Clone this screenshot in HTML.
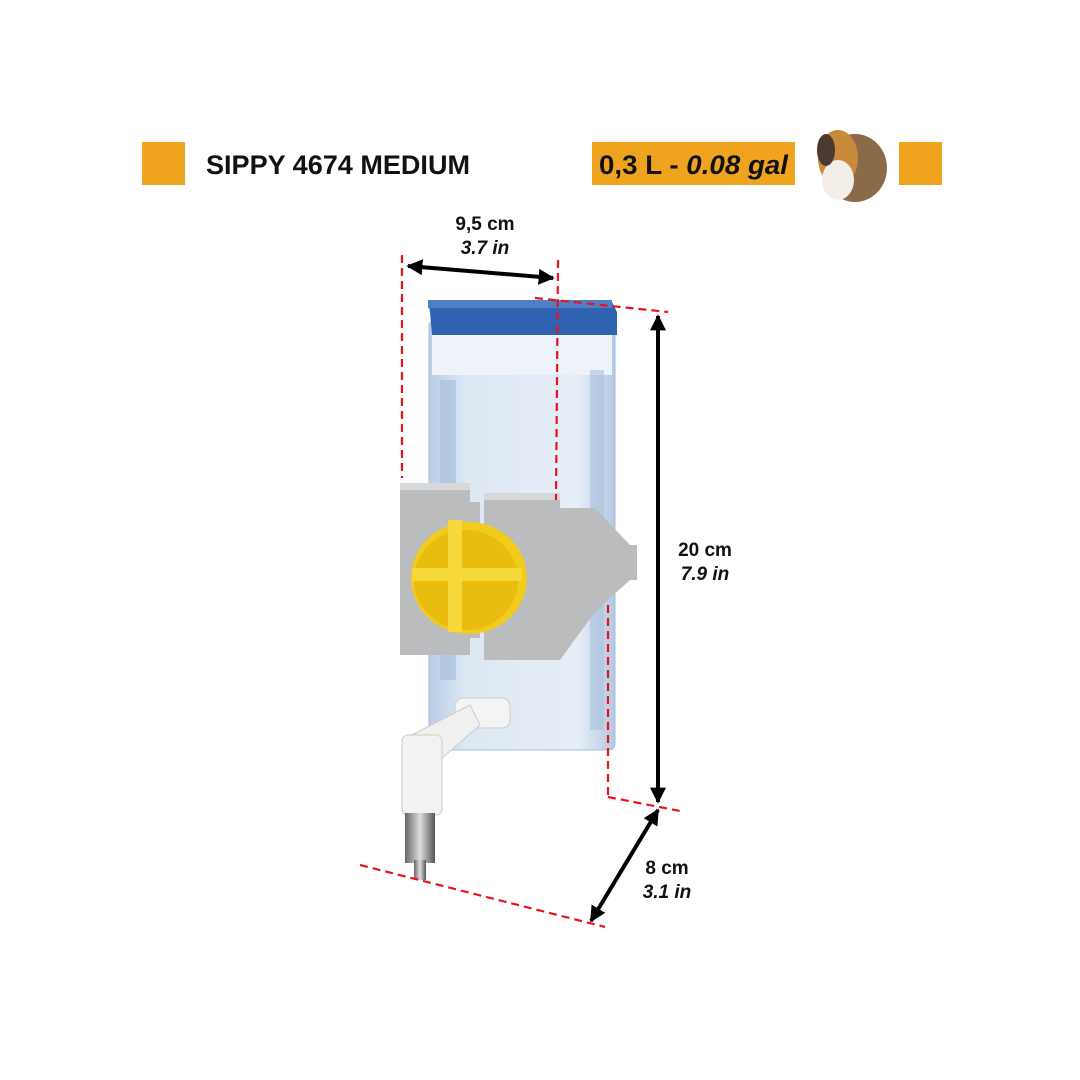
<!DOCTYPE html>
<html><head><meta charset="utf-8"><style>
html,body{margin:0;padding:0;background:#fff;}
svg{display:block}
text{font-family:"Liberation Sans",sans-serif;font-weight:bold}
</style></head><body>
<svg width="1080" height="1080" viewBox="0 0 1080 1080" xmlns="http://www.w3.org/2000/svg">
<defs>
<linearGradient id="water" x1="0" x2="1" y1="0" y2="0">
<stop offset="0" stop-color="#b9cde6"/><stop offset="0.2" stop-color="#dde8f4"/><stop offset="0.8" stop-color="#e6eef7"/><stop offset="1" stop-color="#b5c9e2"/></linearGradient>
<linearGradient id="metal" x1="0" x2="1"><stop offset="0" stop-color="#666"/><stop offset="0.5" stop-color="#ddd"/><stop offset="1" stop-color="#555"/></linearGradient>
<marker id="ah" viewBox="0 0 10 10" refX="9" refY="5" markerWidth="4" markerHeight="4" orient="auto-start-reverse"><path d="M0,0L10,5L0,10z" fill="#000"/></marker>
</defs>
<!-- header -->
<rect x="142" y="142" width="43" height="43" fill="#f0a31f"/>
<text x="206" y="174" font-size="27" fill="#111" textLength="264" lengthAdjust="spacingAndGlyphs">SIPPY 4674 MEDIUM</text>
<rect x="592" y="142" width="203" height="43" fill="#f0a31f"/>
<text x="599" y="174" font-size="27" fill="#111" textLength="189" lengthAdjust="spacingAndGlyphs">0,3 L - <tspan font-style="italic">0.08 gal</tspan></text>
<rect x="899" y="142" width="43" height="43" fill="#f0a31f"/>
<!-- guinea pig -->
<ellipse cx="855" cy="168" rx="32" ry="34" fill="#8a6a48"/>
<ellipse cx="838" cy="158" rx="20" ry="28" fill="#c98a3c"/>
<ellipse cx="838" cy="180" rx="16" ry="20" fill="#f3eee8"/>
<ellipse cx="826" cy="150" rx="9" ry="16" fill="#4a3a30"/>
<!-- dimension labels -->
<text x="485" y="230" font-size="19" text-anchor="middle" fill="#111">9,5 cm</text>
<text x="485" y="254" font-size="19" font-style="italic" text-anchor="middle" fill="#111">3.7 in</text>
<text x="705" y="556" font-size="19" text-anchor="middle" fill="#111">20 cm</text>
<text x="705" y="580" font-size="19" font-style="italic" text-anchor="middle" fill="#111">7.9 in</text>
<text x="667" y="874" font-size="19" text-anchor="middle" fill="#111">8 cm</text>
<text x="667" y="898" font-size="19" font-style="italic" text-anchor="middle" fill="#111">3.1 in</text>
<!-- bottle body -->
<rect x="429" y="320" width="186" height="430" rx="6" fill="url(#water)" stroke="#a9bcd6"/>
<rect x="432" y="330" width="180" height="45" fill="#eef3f9"/>
<rect x="440" y="380" width="16" height="300" fill="#a8c0de" opacity="0.7"/>
<rect x="590" y="370" width="14" height="360" fill="#a8c0de" opacity="0.6"/>
<!-- lid -->
<path d="M428,302 L612,302 L617,312 L617,335 L432,335 L430,312 Z" fill="#2f62b0"/>
<rect x="428" y="300" width="184" height="8" fill="#4f7fc5"/>
<!-- bracket -->
<path d="M400,483 L470,483 L470,502 L480,502 L480,638 L470,638 L470,655 L400,655 Z" fill="#babcbe"/>
<path d="M484,493 L560,493 L560,508 L595,508 L630,545 L637,545 L637,580 L630,580 L595,612 L560,660 L484,660 Z" fill="#babcbe"/>
<path d="M400,483 L470,483 L470,490 L400,490 Z M484,493 L560,493 L560,500 L484,500 Z" fill="#d6d8da"/>
<!-- yellow disk -->
<ellipse cx="469" cy="578" rx="58" ry="56" fill="#f2cc1c"/>
<ellipse cx="466" cy="580" rx="52" ry="50" fill="#e9bd10"/>
<rect x="448" y="520" width="14" height="112" fill="#f6d838"/>
<rect x="412" y="568" width="110" height="13" fill="#f6d838"/>
<!-- nozzle -->
<rect x="455" y="698" width="55" height="30" rx="8" fill="#f4f4f4" stroke="#ccc"/>
<path d="M402,740 L470,705 L480,725 L440,760 Z" fill="#f0f0f0" stroke="#ccc"/>
<rect x="402" y="735" width="40" height="80" rx="6" fill="#f2f2f2" stroke="#ccc"/>
<rect x="405" y="813" width="30" height="50" fill="url(#metal)"/>
<rect x="414" y="860" width="12" height="20" fill="url(#metal)"/>
<!-- red dashed lines -->
<g stroke="#e8141b" stroke-width="2.2" stroke-dasharray="8,5" fill="none">
<line x1="402" y1="255" x2="402" y2="478"/>
<line x1="558" y1="260" x2="556" y2="500"/>
<line x1="535" y1="298" x2="668" y2="312"/>
<line x1="608" y1="605" x2="608" y2="797"/>
<line x1="608" y1="797" x2="680" y2="811"/>
<line x1="360" y1="865" x2="605" y2="927"/>
</g>
<!-- arrows -->
<g stroke="#000" stroke-width="4" fill="none">
<line x1="408" y1="266" x2="553" y2="278" marker-start="url(#ah)" marker-end="url(#ah)"/>
<line x1="658" y1="316" x2="658" y2="802" marker-start="url(#ah)" marker-end="url(#ah)"/>
<line x1="658" y1="810" x2="591" y2="921" marker-start="url(#ah)" marker-end="url(#ah)"/>
</g>
</svg>
</body></html>
